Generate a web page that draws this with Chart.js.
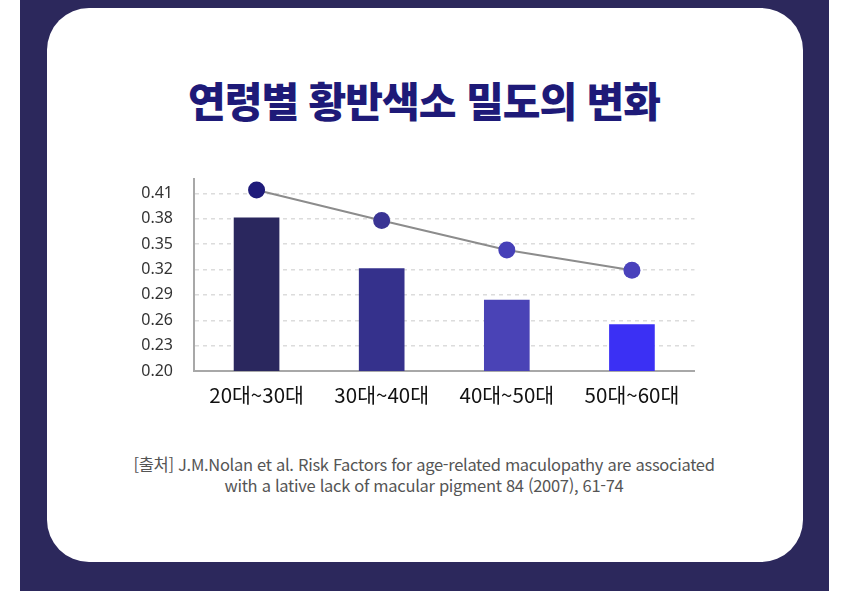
<!DOCTYPE html>
<html lang="ko">
<head>
<meta charset="utf-8">
<script src="https://cdn.jsdelivr.net/npm/chart.js@4"></script>
<style>
  html, body { margin: 0; padding: 0; background: #fff; }
  body { width: 848px; height: 594px; position: relative; overflow: hidden; font-family: "Noto Sans CJK KR", "Noto Sans", sans-serif; }
  .panel { position: absolute; left: 20px; top: 0; width: 809px; height: 591px; background: #2c285c; }
  .card { position: absolute; left: 47px; top: 8px; width: 756px; height: 554px; background: #fff; border-radius: 42px; }
  h1 { position: absolute; left: 0; width: 848px; top: 71px; margin: 0; text-align: center;
       font-size: 41px; font-weight: 900; color: #1e1a78; letter-spacing: -1px; line-height: 56px; }
  .chart-box { position: absolute; left: 120px; top: 148px; width: 583px; height: 282px; }
  .source { position: absolute; left: 0; width: 848px; top: 454px; text-align: center;
            font-size: 16.5px; line-height: 21px; color: #555; letter-spacing: -0.3px; }
</style>
</head>
<body>
<div class="panel"></div>
<div class="card"></div>
<h1>연령별 황반색소 밀도의 변화</h1>
<div class="chart-box"><canvas id="densityChart"></canvas></div>
<div class="source">[출처] J.M.Nolan et al. Risk Factors for age-related maculopathy are associated<br>with a lative lack of macular pigment 84 (2007), 61-74</div>
<script>
const ageGroups = ["20대~30대", "30대~40대", "40대~50대", "50대~60대"];
const barValues = [0.381, 0.321, 0.284, 0.255];
const lineValues = [0.414, 0.378, 0.343, 0.319];
const yTicks = [0.20, 0.23, 0.26, 0.29, 0.32, 0.35, 0.38, 0.41];

const barColors = ["#2a275e", "#35318c", "#4a43b6", "#3b30f4"];
const dotColors = ["#1f1b7a", "#3a3494", "#4640b8", "#4a42bc"];

const ctx = document.getElementById('densityChart').getContext('2d');

const densityChart = new Chart(ctx, {
  type: 'bar',
  data: {
    labels: ageGroups,
    datasets: [
      {
        type: 'line',
        label: '황반색소 밀도',
        data: lineValues,
        borderColor: '#8c8c8c',
        borderWidth: 2,
        pointRadius: 8.5,
        pointBackgroundColor: dotColors,
        pointBorderWidth: 0,
        tension: 0,
        order: 0
      },
      {
        label: '황반색소 밀도',
        data: barValues,
        backgroundColor: barColors,
        barThickness: 45,
        order: 1
      }
    ]
  },
  options: {
    responsive: true,
    maintainAspectRatio: false,
    animation: false,
    layout: { padding: { top: 4, right: 0, left: 0, bottom: 0 } },
    plugins: {
      legend: { display: false },
      tooltip: { enabled: false }
    },
    scales: {
      x: {
        grid: { display: false, drawTicks: false },
        border: { color: '#a8a8a8', width: 2 },
        ticks: { color: '#111', padding: 12, font: { size: 20.5, family: "'Noto Sans CJK KR'" } },
        afterFit: (scale) => { scale.height = 59; }
      },
      y: {
        min: 0.20,
        max: 0.4275,
        afterBuildTicks: (scale) => { scale.ticks = yTicks.map(v => ({ value: v })); },
        grid: { color: '#dcdcdc', lineWidth: 1.5, drawTicks: false },
        border: { color: '#a8a8a8', width: 2, dash: [4, 4], dashOffset: 0 },
        ticks: {
          color: '#333',
          padding: 21,
          font: { size: 16, family: "'Noto Sans'" },
          callback: (v) => Number(v).toFixed(2)
        },
        afterFit: (scale) => { scale.width = 74; }
      }
    }
  }
});
</script>
</body>
</html>
